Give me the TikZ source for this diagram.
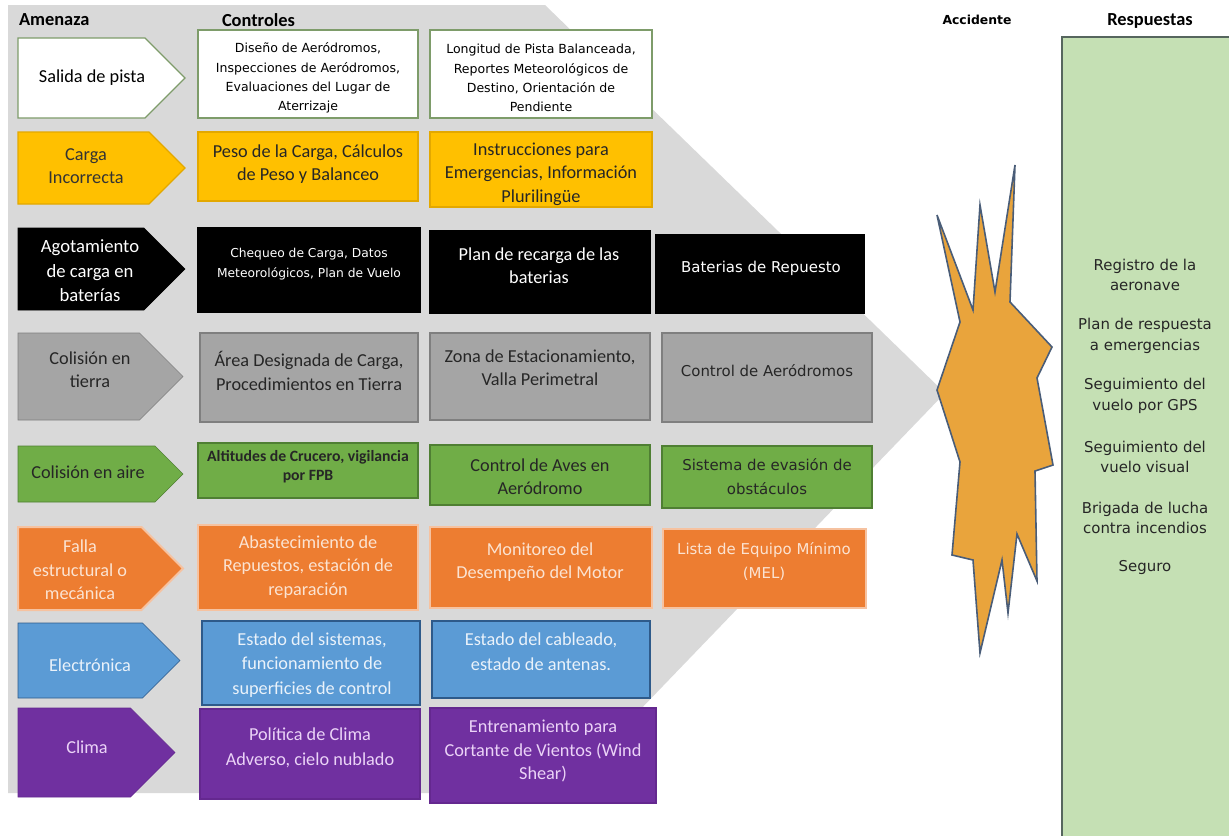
\documentclass[tikz,border=0pt]{standalone}
\usepackage{fontspec}
\setmainfont{Carlito}
\newfontfamily\vfont{DejaVu Sans}
\usetikzlibrary{fit}

\definecolor{bggray}{HTML}{D9D9D9}
\definecolor{wline}{HTML}{7E9C6A}
\definecolor{yfill}{HTML}{FFC000}
\definecolor{yline}{HTML}{E3A800}
\definecolor{gfill}{HTML}{A5A5A5}
\definecolor{gline}{HTML}{7F7F7F}
\definecolor{grfill}{HTML}{70AD47}
\definecolor{grline}{HTML}{4F7F33}
\definecolor{ofill}{HTML}{ED7D31}
\definecolor{oline}{HTML}{F6C2A0}
\definecolor{otext}{HTML}{FBE3D2}
\definecolor{bfill}{HTML}{5B9BD5}
\definecolor{bline}{HTML}{2E5A8A}
\definecolor{btext}{HTML}{EAF2FA}
\definecolor{pfill}{HTML}{7030A0}
\definecolor{pline}{HTML}{64288F}
\definecolor{ptext}{HTML}{EBD3F7}
\definecolor{starfill}{HTML}{E9A43C}
\definecolor{starline}{HTML}{4A5D78}
\definecolor{panelfill}{HTML}{C5E0B4}
\definecolor{panelline}{HTML}{56665E}

% threat chevron: name, left x, top y, bottom y, tip x, style
\newcommand\threat[6]{%
  \filldraw[#6] (#2,#3) -- ({#5-(#4-#3)/2},#3) -- (#5,{(#3+#4)/2})
    -- ({#5-(#4-#3)/2},#4) -- (#2,#4) -- cycle;
  \coordinate (#1) at ({(#2+#5)/2},{(#3+#4)/2});}
% control box: name, corner, opposite corner, style
\newcommand\ctl[4]{\node[box,#4,fit={(#2) (#3)}] (#1) {};}

\begin{document}
\begin{tikzpicture}[x=0.75pt,y=-0.75pt,
  every node/.style={inner sep=0pt,outer sep=0pt},
  box/.style={rectangle,line width=1pt,inner sep=0pt},
  txt/.style={align=center,font=\fontsize{13.7}{17.5}\selectfont},
  small/.style={align=center,font=\vfont\fontsize{9.4}{14.5}\selectfont},
  wide/.style={align=center,font=\vfont\fontsize{11.2}{18}\selectfont},
  head/.style={font=\fontsize{13.8}{15}\selectfont\bfseries},
  wb/.style={fill=white,draw=wline},
  yb/.style={fill=yfill,draw=yline},
  kb/.style={fill=black,draw=black},
  gb/.style={fill=gfill,draw=gline},
  grb/.style={fill=grfill,draw=grline},
  ob/.style={fill=ofill,draw=oline},
  bb/.style={fill=bfill,draw=bline},
  pb/.style={fill=pfill,draw=pline},
  resp/.style={align=center,font=\vfont\fontsize{11.2}{15.5}\selectfont,text=black!85}]
\useasboundingbox (0,0) rectangle (1229,836);

% grey chevron behind the threats and controls
\fill[bggray] (8,5) -- (545,5) -- (945,393) -- (560,793) -- (8,793) -- cycle;

% column headings
\node[head,anchor=west] (hA) at (19,20) {Amenaza};
\node[head,anchor=west] (hC) at (222,20) {Controles};
\node[font=\vfont\fontsize{9.3}{11}\selectfont\bfseries] (hX) at (977,20) {Accidente};
\node[head] (hR) at (1150,21) {Respuestas};

% row 1: runway excursion
\threat{a1}{18}{38}{118}{185}{wb,line width=1pt}
\ctl{c11}{198,30}{418,118}{wb}
\ctl{c12}{430,30}{652,118}{wb}
\node[txt] (ta1) at (92,78) {Salida de pista};
\node[small] (t11) at (308,78) {Diseño de Aeródromos,\\Inspecciones de Aeródromos,\\Evaluaciones del Lugar de\\Aterrizaje};
\node[small] (t12) at (541,78) {Longitud de Pista Balanceada,\\Reportes Meteorológicos de\\Destino, Orientación de\\Pendiente};

% row 2: incorrect load
\threat{a2}{18}{132}{204}{185}{yb,line width=1pt}
\ctl{c21}{198,132}{418,201}{yb}
\ctl{c22}{430,132}{652,207}{yb}
\node[txt,text=black!80] (ta2) at (86,166) {Carga\\Incorrecta};
\node[txt,text=black!85] (t21) at (308,164) {Peso de la Carga, Cálculos\\de Peso y Balanceo};
\node[txt,text=black!85] (t22) at (541,174) {Instrucciones para\\Emergencias, Información\\Plurilingüe};

% row 3: battery depletion
\threat{a3}{18}{228}{310}{185}{kb}
\ctl{c31}{198,228}{420,312}{kb}
\ctl{c32}{430,231}{650,313}{kb}
\ctl{c33}{656,235}{864,313}{kb}
\node[txt,text=white,font=\fontsize{14}{18.3}\selectfont] (ta3) at (90,271) {Agotamiento\\de carga en\\baterías};
\node[small,text=white,font=\vfont\fontsize{9.2}{15}\selectfont] (t31) at (309,264) {Chequeo de Carga, Datos\\Meteorológicos, Plan de Vuelo};
\node[txt,text=white] (t32) at (539,266) {Plan de recarga de las\\baterias};
\node[wide,text=white] (t33) at (761,268) {Baterias de Repuesto};

% row 4: ground collision
\threat{a4}{18}{333}{420}{183}{gb}
\ctl{c41}{200,333}{418,422}{gb}
\ctl{c42}{430,333}{650,420}{gb}
\ctl{c43}{662,333}{872,422}{gb}
\node[txt,text=black!85] (ta4) at (90,370) {Colisión en\\tierra};
\node[txt,text=black!85] (t41) at (309,371) {Área Designada de Carga,\\Procedimientos en Tierra};
\node[txt,text=black!85] (t42) at (540,368) {Zona de Estacionamiento,\\Valla Perimetral};
\node[wide,text=black!85] (t43) at (767,371) {Control de Aeródromos};

% row 5: mid-air collision
\threat{a5}{18}{446}{502}{183}{grb}
\ctl{c51}{198,443}{418,498}{grb}
\ctl{c52}{430,445}{650,505}{grb}
\ctl{c53}{662,446}{872,508}{grb}
\node[txt,text=black!85] (ta5) at (88,472) {Colisión en aire};
\node[txt,text=black!85,font=\fontsize{11.8}{14}\selectfont\bfseries] (t51) at (308,467) {Altitudes de Crucero, vigilancia\\por FPB};
\node[txt,text=black!85] (t52) at (540,477) {Control de Aves en\\Aeródromo};
\node[wide,text=black!85] (t53) at (767,477) {Sistema de evasión de\\obstáculos};

% row 6: structural or mechanical failure
\threat{a6}{18}{527}{610}{183}{ob,line width=1.5pt}
\ctl{c61}{198,525}{418,610}{ob,line width=1.5pt}
\ctl{c62}{430,527}{652,608}{ob,line width=1.5pt}
\ctl{c63}{663,529}{866,608}{ob,line width=1.5pt}
\node[txt,text=otext] (ta6) at (80,570) {Falla\\estructural o\\mecánica};
\node[txt,text=otext] (t61) at (308,567) {Abastecimiento de\\Repuestos, estación de\\reparación};
\node[txt,text=otext] (t62) at (540,562) {Monitoreo del\\Desempeño del Motor};
\node[wide,text=otext] (t63) at (764,562) {Lista de Equipo Mínimo\\(MEL)};

% row 7: electronics
\threat{a7}{18}{623}{698}{180}{bb}
\ctl{c71}{202,621}{420,705}{bb}
\ctl{c72}{432,621}{650,698}{bb}
\node[txt,text=btext] (ta7) at (90,665) {Electrónica};
\node[txt,text=btext,font=\fontsize{13.7}{18.5}\selectfont] (t71) at (312,665) {Estado del sistemas,\\funcionamiento de\\superficies de control};
\node[txt,text=btext,font=\fontsize{13.7}{18.5}\selectfont] (t72) at (541,652) {Estado del cableado,\\estado de antenas.};

% row 8: weather
\threat{a8}{18}{708}{797}{175}{pb}
\ctl{c81}{200,709}{420,799}{pb}
\ctl{c82}{430,708}{656,803}{pb}
\node[txt,text=ptext] (ta8) at (87,747) {Clima};
\node[txt,text=ptext,font=\fontsize{13.7}{18.5}\selectfont] (t81) at (310,748) {Política de Clima\\Adverso, cielo nublado};
\node[txt,text=ptext] (t82) at (543,751) {Entrenamiento para\\Cortante de Vientos (Wind\\Shear)};

% accident burst
\filldraw[fill=starfill,draw=starline,line width=1.2pt,line join=miter]
  (937,215) -- (973,310) -- (980,205) -- (995,292) -- (1015,165) -- (1010,302)
  -- (1052,347) -- (1037,378) -- (1053,465) -- (1035,471) -- (1037,581)
  -- (1017,534) -- (1008,613) -- (1002,560) -- (980,653) -- (973,560)
  -- (952,555) -- (960,462) -- (937,390) -- (960,322) -- cycle;
\coordinate (burst) at (995,400);

% responses panel
\node[fill=panelfill,draw=panelline,line width=1.5pt,fit={(1062,37) (1240,850)}] (panel) {};
\node[resp] (r1) at (1145,275) {Registro de la\\aeronave};
\node[resp] (r2) at (1145,336) {Plan de respuesta\\a emergencias};
\node[resp] (r3) at (1145,396) {Seguimiento del\\vuelo por GPS};
\node[resp] (r4) at (1145,457) {Seguimiento del\\vuelo visual};
\node[resp] (r5) at (1145,518) {Brigada de lucha\\contra incendios};
\node[resp] (r6) at (1145,568) {Seguro};
\end{tikzpicture}
\end{document}
